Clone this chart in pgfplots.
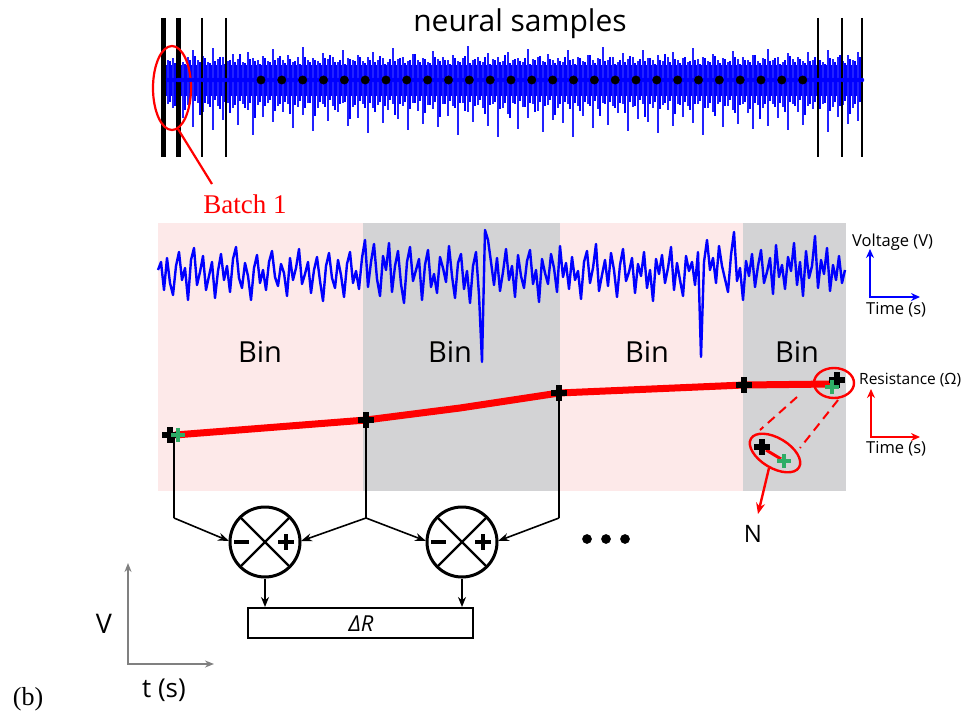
\documentclass[border=0pt]{standalone}
\usepackage{fontspec}
\setmainfont{Open Sans}
\newfontfamily\seriffont{Liberation Serif}
\usepackage{pgfplots}
\usepackage{pgfplotstable}
\pgfplotsset{compat=1.18}
\usetikzlibrary{arrows.meta}
\definecolor{binpink}{HTML}{FDE9E9}
\definecolor{bingray}{HTML}{D3D3D5}
\definecolor{sigblue}{HTML}{0000FF}
\definecolor{spikeblue}{HTML}{2222FF}
\definecolor{crossgreen}{HTML}{2EAD66}
\definecolor{axgray}{HTML}{808080}

\pgfplotstableread{
x c u d
168 80 20 24
173 80 22 28
178 80 25 22
183 80 18 38
188 80 23 25
193 80 30 47
198 80 20 23
203 80 24 32
208 80 18 24
213 80 32 50
218 80 21 26
223 80 23 40
228 80 19 23
233 80 26 28
238 80 21 45
243 80 18 24
248 80 28 30
253 80 22 55
258 80 20 25
263 80 24 37
268 80 19 23
273 80 31 42
278 80 22 26
283 80 20 32
288 80 25 24
293 80 18 48
298 80 23 27
303 80 33 35
308 80 20 23
313 80 22 51
318 80 19 28
323 80 27 24
328 80 21 41
333 80 23 26
338 80 18 32
343 80 30 23
348 80 22 46
353 80 20 27
358 80 25 38
363 80 19 24
368 80 23 53
373 80 28 28
378 80 20 25
383 80 22 43
388 80 18 30
393 80 32 24
398 80 21 39
403 80 23 26
408 80 19 50
413 80 26 23
418 80 20 31
423 80 22 44
428 80 18 25
433 80 29 29
438 80 21 47
443 80 23 24
448 80 20 36
453 80 25 26
458 80 19 55
463 80 22 23
468 80 34 32
473 80 20 42
478 80 23 25
483 80 18 28
488 80 27 46
493 80 21 24
498 80 23 57
503 80 19 28
508 80 28 34
513 80 20 23
518 80 22 49
523 80 18 27
528 80 31 38
533 80 21 24
538 80 23 31
543 80 19 52
548 80 26 25
553 80 20 40
558 80 22 28
563 80 18 43
568 80 30 24
573 80 21 57
578 80 23 26
583 80 19 36
588 80 25 24
593 80 20 48
598 80 22 29
603 80 33 23
608 80 20 45
613 80 23 26
618 80 18 33
623 80 27 24
628 80 21 51
633 80 23 27
638 80 19 39
643 80 30 24
648 80 22 42
653 80 20 28
658 80 25 53
663 80 19 25
668 80 23 30
673 80 28 46
678 80 20 24
683 80 22 37
688 80 18 26
693 80 32 43
698 80 21 24
703 80 23 55
708 80 19 28
713 80 26 32
718 80 20 24
723 80 22 47
728 80 18 26
733 80 29 30
738 80 21 44
743 80 23 24
748 80 20 33
753 80 25 49
758 80 19 25
763 80 22 28
768 80 31 46
773 80 20 24
778 80 23 38
783 80 18 27
788 80 27 50
793 80 21 24
798 80 23 32
803 80 19 45
808 80 28 26
813 80 20 29
818 80 22 40
823 80 18 24
828 80 30 52
833 80 21 27
838 80 23 37
843 80 19 25
848 80 25 44
853 80 20 28
858 80 28 41
862 80 30 46
}\topspikes

\pgfplotstableread{
x c u d
170 80 19 22
175 80 17 26
180 80 21 20
185 80 16 30
190 80 20 24
195 80 24 21
200 80 18 35
205 80 22 23
210 80 17 27
215 80 19 20
220 80 23 29
225 80 16 22
230 80 20 33
235 80 18 25
240 80 26 21
245 80 17 28
250 80 21 23
255 80 19 38
260 80 16 22
265 80 22 26
270 80 18 20
275 80 20 31
280 80 24 24
285 80 17 22
290 80 21 34
295 80 19 25
300 80 16 21
305 80 23 28
310 80 18 23
315 80 20 36
320 80 17 22
325 80 22 27
330 80 25 20
335 80 18 30
340 80 20 24
345 80 16 22
350 80 21 39
355 80 19 25
360 80 23 21
365 80 17 28
370 80 20 23
375 80 18 32
380 80 24 22
385 80 16 26
390 80 21 20
395 80 19 35
400 80 22 24
405 80 17 22
410 80 20 29
415 80 26 23
420 80 18 21
425 80 21 33
430 80 17 25
435 80 23 22
440 80 19 37
445 80 20 24
450 80 16 21
455 80 22 28
460 80 18 23
465 80 24 31
470 80 17 22
475 80 21 26
480 80 19 20
485 80 23 34
490 80 16 25
495 80 20 22
500 80 18 29
505 80 25 23
510 80 17 38
515 80 21 24
520 80 19 21
525 80 22 27
530 80 16 23
535 80 20 32
540 80 24 22
545 80 18 26
550 80 21 20
555 80 17 35
560 80 19 24
565 80 23 22
570 80 20 29
575 80 16 23
580 80 22 31
585 80 18 22
590 80 25 26
595 80 17 21
600 80 21 36
605 80 19 24
610 80 23 22
615 80 16 28
620 80 20 23
625 80 18 33
630 80 24 22
635 80 17 26
640 80 21 20
645 80 19 37
650 80 22 24
655 80 16 22
660 80 20 29
665 80 26 23
670 80 18 21
675 80 21 34
680 80 17 25
685 80 23 22
690 80 19 30
695 80 20 24
700 80 16 21
705 80 22 28
710 80 18 23
715 80 24 36
720 80 17 22
725 80 21 26
730 80 19 20
735 80 23 33
740 80 16 25
745 80 20 22
750 80 18 29
755 80 25 23
760 80 17 39
765 80 21 24
770 80 19 21
775 80 22 27
780 80 16 23
785 80 20 32
790 80 24 22
795 80 18 26
800 80 21 20
805 80 17 35
810 80 19 24
815 80 23 22
820 80 20 29
825 80 16 23
830 80 22 31
835 80 18 22
840 80 25 26
845 80 17 21
850 80 21 34
855 80 19 24
860 80 23 22
}\topfill

\begin{document}
\begin{tikzpicture}
\begin{axis}[scale only axis, width=979pt, height=713pt,
  xmin=0, xmax=979, ymin=0, ymax=713, y dir=reverse,
  axis lines=none, ticks=none, clip=false]
\path (axis cs:0,0) rectangle (axis cs:979,713);

% ---------- top: neural samples ----------
\addplot[fill=sigblue, draw=none] coordinates {(165,65) (862,65) (862,96) (165,96)};
\addplot[sigblue, only marks, mark=none,
  error bars/.cd, y dir=both, y explicit, error mark=none,
  error bar style={line width=1.1pt, sigblue}]
  table[x=x, y=c, y error plus=d, y error minus=u] {\topfill};
\addplot[sigblue, only marks, mark=none,
  error bars/.cd, y dir=both, y explicit, error mark=none,
  error bar style={line width=1.3pt, spikeblue}]
  table[x=x, y=c, y error plus=d, y error minus=u] {\topspikes};

% batch separators
\addplot[black, line width=5pt] coordinates {(163,18) (163,157)};
\addplot[black, line width=5pt] coordinates {(178,18) (178,157)};
\addplot[black, line width=2.6pt] coordinates {(202,18) (202,157)};
\addplot[black, line width=2.6pt] coordinates {(226,18) (226,157)};
\addplot[black, line width=2.6pt] coordinates {(818,18) (818,157)};
\addplot[black, line width=2.6pt] coordinates {(842,18) (842,157)};
\addplot[black, line width=2.6pt] coordinates {(862,18) (862,157)};

% dots
\addplot[only marks, mark=*, mark size=4.2pt, black] coordinates {
(261,80) (281.8,80) (302.7,80) (323.5,80) (344.3,80) (365.2,80) (386,80) (406.8,80) (427.7,80)
(448.5,80) (469.3,80) (490.2,80) (511,80) (531.8,80) (552.7,80) (573.5,80) (594.3,80) (615.2,80)
(636,80) (656.8,80) (677.7,80) (698.5,80) (719.3,80) (740.2,80) (761,80) (781.8,80) (802.7,80)};

\node[anchor=base, font=\fontsize{30}{36}\selectfont] at (axis cs:520,32) {neural samples};

% batch 1 annotation
\draw[red, line width=2.2pt] (axis cs:172,88) ellipse [x radius=19pt, y radius=42pt];
\draw[red, line width=2.2pt] (axis cs:178,129) -- (axis cs:212,184);
\node[anchor=base, text=red, font=\seriffont\fontsize{27}{32}\selectfont] at (axis cs:245,213) {Batch 1};

% ---------- middle panel ----------
\addplot[fill=binpink, draw=none] coordinates {(158,223) (363,223) (363,491) (158,491)};
\addplot[fill=bingray, draw=none] coordinates {(363,223) (560,223) (560,491) (363,491)};
\addplot[fill=binpink, draw=none] coordinates {(560,223) (743,223) (743,491) (560,491)};
\addplot[fill=bingray, draw=none] coordinates {(743,223) (846,223) (846,491) (743,491)};

\addplot[sigblue, line width=2.4pt, line join=round] coordinates {
(158,270) (161,262) (164,290) (167,258) (170,283) (173,295) (176,266) (179,252) (182,280) (185,268)
(188,300) (191,260) (194,248) (197,285) (200,272) (203,256) (206,290) (209,276) (212,262) (215,298)
(218,271) (221,254) (224,280) (227,266) (230,292) (233,259) (236,247) (239,278) (242,288) (245,263)
(248,276) (251,300) (254,268) (257,255) (260,283) (263,270) (266,290) (269,262) (272,251) (275,277)
(278,286) (281,264) (284,273) (287,296) (290,258) (293,280) (296,268) (299,249) (302,284) (305,274)
(308,262) (311,293) (314,270) (317,257) (320,281) (323,301) (326,266) (329,253) (332,278) (335,288)
(338,260) (341,275) (344,297) (347,264) (350,252) (353,283) (356,271) (359,289) (362,258) (365,240)
(368,287) (371,262) (374,244) (377,279) (380,296) (383,256) (386,270) (389,243) (392,292) (395,266)
(398,251) (401,284) (404,303) (407,262) (410,247) (413,281) (416,270) (419,259) (422,300) (425,265)
(428,250) (431,287) (434,274) (437,293) (440,257) (443,268) (446,282) (449,246) (452,276) (455,298)
(458,263) (461,254) (464,289) (467,271) (470,303) (473,266) (476,252) (479,295) (482,362) (485,230)
(488,240) (491,262) (494,285) (497,258) (500,291) (503,272) (506,249) (509,280) (512,266) (515,297)
(518,255) (521,276) (524,288) (527,261) (530,250) (533,284) (536,270) (539,302) (542,259) (545,273)
(548,284) (551,254) (554,268) (557,292) (560,246) (563,277) (566,263) (569,289) (572,257) (575,280)
(578,271) (581,299) (584,262) (587,251) (590,283) (593,268) (596,244) (599,291) (602,275) (605,260)
(608,286) (611,253) (614,270) (617,297) (620,265) (623,249) (626,281) (629,272) (632,258) (635,293)
(638,264) (641,276) (644,252) (647,288) (650,270) (653,301) (656,259) (659,274) (662,255) (665,283)
(668,268) (671,247) (674,290) (677,263) (680,280) (683,296) (686,256) (689,271) (692,262) (695,285)
(698,252) (701,357) (704,262) (707,240) (710,270) (713,258) (716,283) (719,246) (722,266) (725,279)
(728,292) (731,255) (734,232) (737,281) (740,268) (743,300) (746,261) (749,276) (752,254) (755,287)
(758,266) (761,250) (764,283) (767,272) (770,258) (773,294) (776,245) (779,277) (782,265) (785,289)
(788,257) (791,271) (794,243) (797,285) (800,262) (803,296) (806,251) (809,278) (812,266) (815,236)
(818,288) (821,260) (824,274) (827,248) (830,291) (833,265) (836,280) (839,256) (842,283) (845,270)};

\node[anchor=base, font=\fontsize{29}{34}\selectfont] at (axis cs:260,362) {Bin};
\node[anchor=base, font=\fontsize{29}{34}\selectfont] at (axis cs:450,362) {Bin};
\node[anchor=base, font=\fontsize{29}{34}\selectfont] at (axis cs:647,362) {Bin};
\node[anchor=base, font=\fontsize{29}{34}\selectfont] at (axis cs:797,362) {Bin};

% resistance line
\addplot[red, line width=7pt] coordinates {(175,435) (366,420) (460,408) (559,393) (744,385) (833,384)};

% connectors to summers
\draw[black, line width=1.6pt] (axis cs:174,436) -- (axis cs:174,518);
\draw[black, line width=1.6pt] (axis cs:366,420) -- (axis cs:366,518);
\draw[black, line width=1.6pt] (axis cs:559,393) -- (axis cs:559,518);
\draw[black, line width=1.6pt, -{Stealth[length=11pt,width=8pt]}] (axis cs:174,518) -- (axis cs:229,541);
\draw[black, line width=1.6pt, -{Stealth[length=11pt,width=8pt]}] (axis cs:366,518) -- (axis cs:301,541);
\draw[black, line width=1.6pt, -{Stealth[length=11pt,width=8pt]}] (axis cs:366,518) -- (axis cs:426,541);
\draw[black, line width=1.6pt, -{Stealth[length=11pt,width=8pt]}] (axis cs:559,518) -- (axis cs:498,541);

% crosses
\addplot[only marks, mark=+, mark size=8pt, black, mark options={line width=5.5pt}] coordinates {
(170,435) (366,420) (559,393) (744,385) (837,380) (762,447)};
\addplot[red, line width=3pt] coordinates {(766,450) (781,459)};
\addplot[only marks, mark=+, mark size=7pt, crossgreen, mark options={line width=4.5pt}] coordinates {
(178,435) (832,387) (784,461)};

% N annotation
\draw[red, line width=2.4pt] (axis cs:834,383) ellipse [x radius=20pt, y radius=15pt];
\draw[red, line width=2.4pt, rotate around={-31:(axis cs:775,453)}] (axis cs:775,453) ellipse [x radius=28pt, y radius=15pt];
\draw[red, line width=2pt, dash pattern=on 9pt off 6pt] (axis cs:797,397) -- (axis cs:760,430);
\draw[red, line width=2pt, dash pattern=on 9pt off 6pt] (axis cs:838,400) -- (axis cs:800,448);
\draw[red, line width=2.4pt, -{Stealth[length=11pt,width=9pt]}] (axis cs:769,468) -- (axis cs:758,514);
\node[anchor=base, font=\fontsize{24}{28}\selectfont] at (axis cs:753,542) {N};

% small axes icons
\draw[sigblue, line width=2.6pt, -{Stealth[length=9pt,width=8pt]}] (axis cs:870,297) -- (axis cs:870,249);
\draw[sigblue, line width=2.6pt, -{Stealth[length=9pt,width=8pt]}] (axis cs:869,297) -- (axis cs:920,297);
\node[anchor=west, font=\fontsize{16.5}{20}\selectfont, inner sep=0pt] at (axis cs:852,242) {Voltage (V)};
\node[anchor=west, font=\fontsize{16.5}{20}\selectfont, inner sep=0pt] at (axis cs:866,310) {Time (s)};

\draw[red, line width=2.6pt, -{Stealth[length=9pt,width=8pt]}] (axis cs:871,437) -- (axis cs:871,389);
\draw[red, line width=2.6pt, -{Stealth[length=9pt,width=8pt]}] (axis cs:870,437) -- (axis cs:920,437);
\node[anchor=west, font=\fontsize{15.5}{19}\selectfont, inner sep=0pt] at (axis cs:859,380) {Resistance (Ω)};
\node[anchor=west, font=\fontsize{16.5}{20}\selectfont, inner sep=0pt] at (axis cs:866,449) {Time (s)};

% ---------- bottom: summers ----------
\draw[black, line width=3pt] (axis cs:265,542) circle [radius=35pt];
\draw[black, line width=2.4pt] (axis cs:240.3,517.3) -- (axis cs:289.7,566.7);
\draw[black, line width=2.4pt] (axis cs:240.3,566.7) -- (axis cs:289.7,517.3);
\draw[black, line width=4pt] (axis cs:234,542) -- (axis cs:249,542);
\draw[black, line width=4pt] (axis cs:278,542) -- (axis cs:294,542);
\draw[black, line width=4pt] (axis cs:286,534) -- (axis cs:286,550);
\draw[black, line width=1.6pt, -{Stealth[length=10pt,width=8pt]}] (axis cs:265,579) -- (axis cs:265,607);

\draw[black, line width=3pt] (axis cs:462,542) circle [radius=35pt];
\draw[black, line width=2.4pt] (axis cs:437.3,517.3) -- (axis cs:486.7,566.7);
\draw[black, line width=2.4pt] (axis cs:437.3,566.7) -- (axis cs:486.7,517.3);
\draw[black, line width=4pt] (axis cs:431,542) -- (axis cs:446,542);
\draw[black, line width=4pt] (axis cs:475,542) -- (axis cs:491,542);
\draw[black, line width=4pt] (axis cs:483,534) -- (axis cs:483,550);
\draw[black, line width=1.6pt, -{Stealth[length=10pt,width=8pt]}] (axis cs:462,579) -- (axis cs:462,607);

\draw[black, line width=2.4pt] (axis cs:248,608) rectangle (axis cs:473,638);
\node[anchor=base, font=\itshape\fontsize{22}{26}\selectfont] at (axis cs:361,631) {ΔR};

\addplot[only marks, mark=*, mark size=4.6pt, black] coordinates {(587,539) (606,539) (625,539)};

% gray axes
\draw[axgray, line width=2pt, -{Stealth[length=9pt,width=7pt]}] (axis cs:128,664) -- (axis cs:128,563);
\draw[axgray, line width=2pt, -{Stealth[length=9pt,width=7pt]}] (axis cs:127,664) -- (axis cs:214,664);
\node[anchor=base, font=\fontsize{27}{32}\selectfont] at (axis cs:104,633) {V};
\node[anchor=base, font=\fontsize{26}{30}\selectfont] at (axis cs:164,697) {t (s)};
\node[anchor=base, font=\seriffont\fontsize{26}{30}\selectfont] at (axis cs:28,705) {(b)};
\end{axis}
\end{tikzpicture}
\end{document}
